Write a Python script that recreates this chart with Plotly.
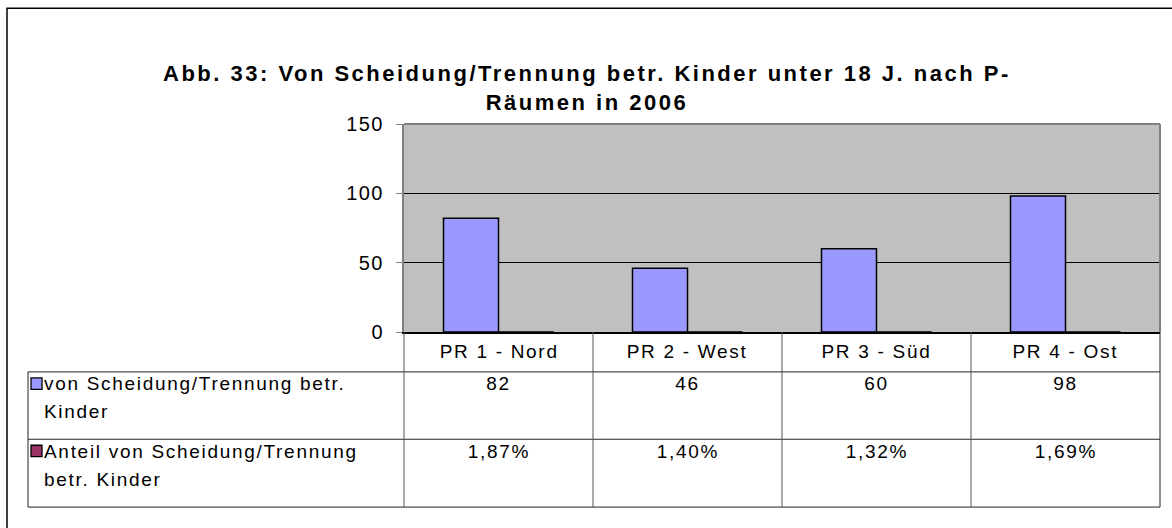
import plotly.graph_objects as go

# Data
categories = ["PR 1 - Nord", "PR 2 - West", "PR 3 - Süd", "PR 4 - Ost"]
kinder = [82, 46, 60, 98]
anteil = [0.0187, 0.0140, 0.0132, 0.0169]
anteil_labels = ["1,87%", "1,40%", "1,32%", "1,69%"]
series_names = [["von Scheidung/Trennung betr.", "Kinder"],
                ["Anteil von Scheidung/Trennung", "betr. Kinder"]]
series_colors = ["#9999FF", "#993366"]
y_ticks = [0, 50, 100, 150]
title_text = ("<b>Abb. 33: Von Scheidung/Trennung betr. Kinder unter 18 J. nach P-"
              "<br>Räumen in 2006</b>")

W, H = 1172, 528
PL, PR, PT, PB = 404, 1160, 124, 332.5   # plot area in pixels
FONT = "Liberation Sans, Arial, sans-serif"
TXT = 19
TITLE_SIZE = 22


def px(x):
    return (x - PL) / (PR - PL)


def py(y):
    return (PB - y) / (PB - PT)


fig = go.Figure()
fig.add_trace(go.Bar(x=categories, y=kinder, name="Kinder",
                     marker=dict(color=series_colors[0], line=dict(color="black", width=1.5))))
fig.add_trace(go.Bar(x=categories, y=anteil, name="Anteil",
                     marker=dict(color=series_colors[1], line=dict(color="black", width=1))))

shapes = []
# outer chart frame (extends past the right and bottom edges)
shapes.append(dict(type="rect", xref="paper", yref="paper",
                   x0=px(7), x1=px(1200), y0=py(8), y1=py(560),
                   line=dict(color="black", width=1.5), layer="above"))
# plot area border (top / right)
shapes.append(dict(type="line", xref="paper", yref="paper",
                   x0=0, x1=1, y0=1, y1=1, line=dict(color="#808080", width=2)))
shapes.append(dict(type="line", xref="paper", yref="paper",
                   x0=1, x1=1, y0=0, y1=1, line=dict(color="#808080", width=2)))

# data table below the axis
n = len(categories)
col_w = (PR - PL) / n
row_y = [PB, 372.5, 440, 508]
TBL_L = 28
line_col = "#222222"
for yy in row_y[1:]:
    shapes.append(dict(type="line", xref="paper", yref="paper",
                       x0=px(TBL_L), x1=px(PR), y0=py(yy), y1=py(yy),
                       line=dict(color=line_col, width=1)))
for i in range(n + 1):
    xx = PL + i * col_w
    shapes.append(dict(type="line", xref="paper", yref="paper",
                       x0=px(xx), x1=px(xx), y0=py(PB), y1=py(row_y[-1]),
                       line=dict(color="#555555" if i < n else line_col, width=1)))
shapes.append(dict(type="line", xref="paper", yref="paper",
                   x0=px(TBL_L), x1=px(TBL_L), y0=py(row_y[1]), y1=py(row_y[-1]),
                   line=dict(color=line_col, width=1)))

annotations = []
# chart title
annotations.append(dict(text=title_text, xref="paper", yref="paper",
                        x=px(587), y=py(88), xanchor="center", yanchor="middle",
                        showarrow=False, align="center",
                        font=dict(family=FONT, size=TITLE_SIZE, color="black")))
# category header row
for i, c in enumerate(categories):
    annotations.append(dict(text=c, xref="paper", yref="paper",
                            x=px(PL + (i + 0.5) * col_w), y=py(352.5),
                            xanchor="center", yanchor="middle", showarrow=False,
                            font=dict(family=FONT, size=TXT, color="black")))
# series rows
rows = [[str(v) for v in kinder], anteil_labels]
for r, vals in enumerate(rows):
    y_top = row_y[r + 1]
    line1 = y_top + 12
    shapes.append(dict(type="rect", xref="paper", yref="paper",
                       x0=px(31), x1=px(42), y0=py(line1 - 6), y1=py(line1 + 5.5),
                       fillcolor=series_colors[r], line=dict(color="black", width=1.3)))
    for k, part in enumerate(series_names[r]):
        annotations.append(dict(text=part, xref="paper", yref="paper",
                                x=px(42), y=py(line1 + 28 * k), xanchor="left",
                                yanchor="middle", align="left", showarrow=False,
                                font=dict(family=FONT, size=TXT, color="black")))
    for i, v in enumerate(vals):
        annotations.append(dict(text=v, xref="paper", yref="paper",
                                x=px(PL + (i + 0.5) * col_w), y=py(line1),
                                xanchor="center", yanchor="middle", showarrow=False,
                                font=dict(family=FONT, size=TXT, color="black")))

fig.update_layout(
    width=W, height=H,
    margin=dict(l=PL, r=W - PR, t=PT, b=H - PB, pad=0),
    paper_bgcolor="white", plot_bgcolor="#C0C0C0",
    barmode="group", bargap=0.418, bargroupgap=0,
    showlegend=False,
    shapes=shapes, annotations=annotations,
    font=dict(family=FONT, size=TXT, color="black"),
)
fig.update_xaxes(showticklabels=False, showgrid=False, ticks="",
                 showline=True, linecolor="black", linewidth=1.5, zeroline=False)
fig.update_yaxes(range=[0, 150], tickvals=y_ticks, showgrid=True, gridcolor="black",
                 gridwidth=1, zeroline=False, showline=True, linecolor="#808080",
                 linewidth=2, ticks="outside", ticklen=6, tickcolor="#808080",
                 tickfont=dict(family=FONT, size=20, color="black"), ticklabelstandoff=8)

# wider glyph spacing, as in the original office-style rendering
spacing_js = """
var gd = document.querySelector('.plotly-graph-div');
function widen() {
  gd.querySelectorAll('.annotation-text').forEach(function (t) {
    var size = parseFloat(t.style.fontSize || window.getComputedStyle(t).fontSize);
    t.style.letterSpacing = size >= %d ? '2.5px' : '1.7px';
  });
  gd.querySelectorAll('.ytick text').forEach(function (t) {
    t.style.letterSpacing = '1.5px';
  });
}
widen();
setTimeout(widen, 0);
""" % TITLE_SIZE
fig.write_html("out.html", post_script=spacing_js)
